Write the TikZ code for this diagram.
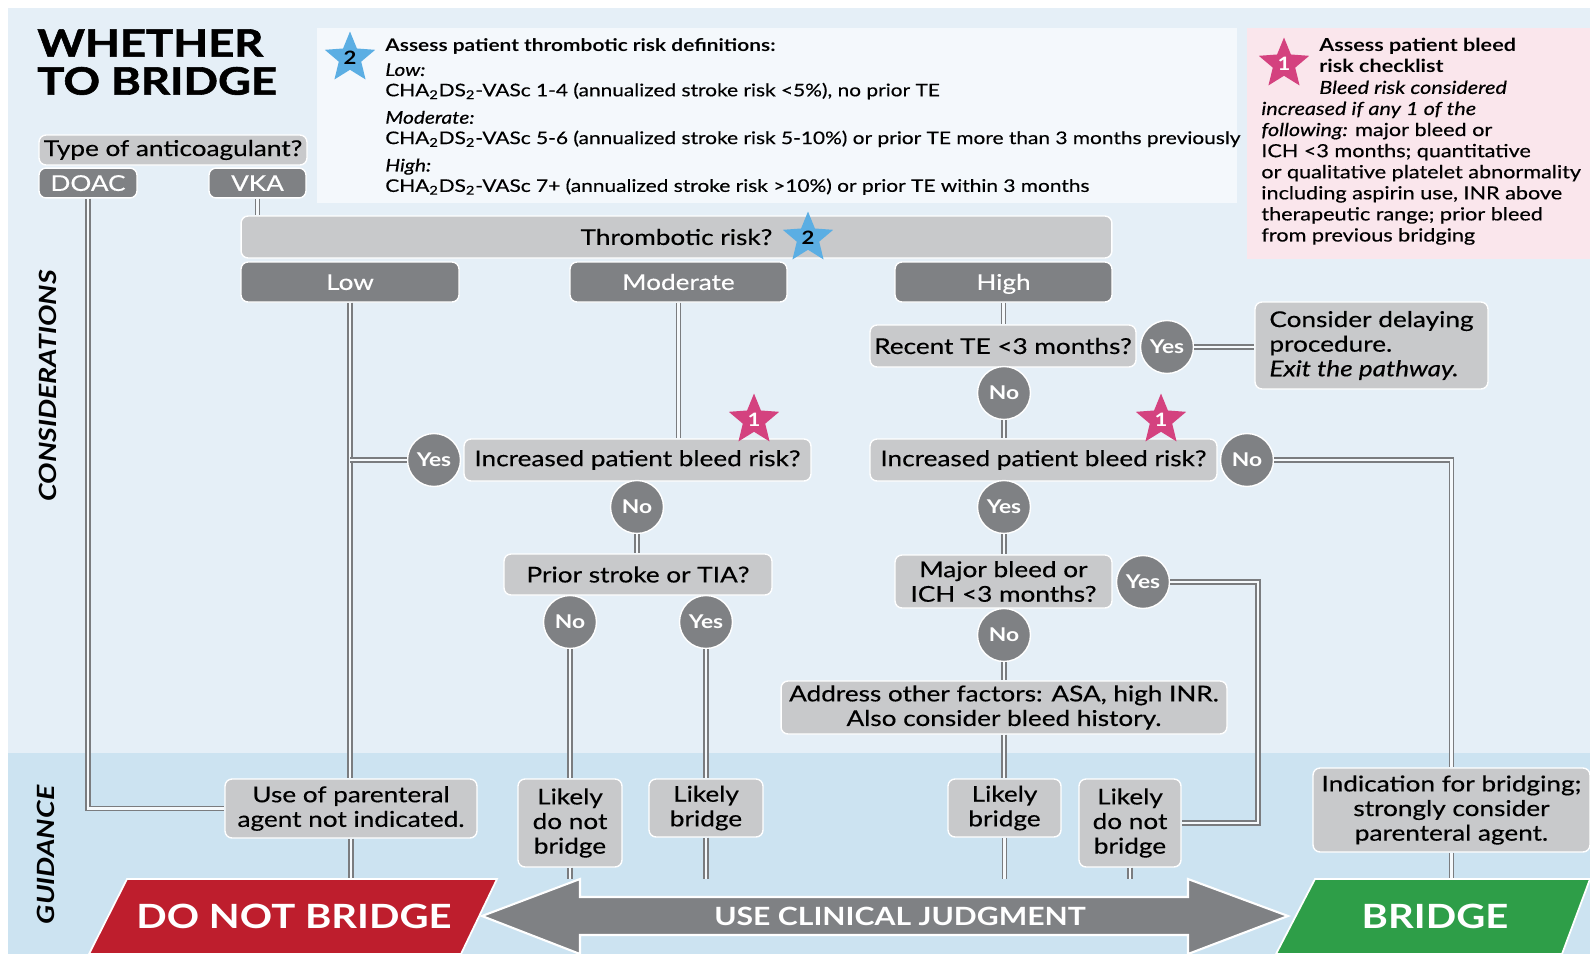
\documentclass[tikz,border=0pt]{standalone}
\usepackage{fontspec}
\setmainfont{Lato}[FakeStretch=1.2, UprightFeatures={FakeBold=0.4}, ItalicFeatures={FakeBold=0.4}]
\newfontfamily\heavyfont{Lato}[FakeStretch=1.2, BoldFeatures={FakeBold=1.5}]
\usepackage{xcolor}
\usepackage{tikz}
\usetikzlibrary{shapes,arrows,positioning,backgrounds,calc}

\definecolor{bgblue}{HTML}{E5EFF7}
\definecolor{guideblue}{HTML}{CCE3F1}
\definecolor{defwhite}{HTML}{F4F8FC}
\definecolor{pinkbox}{HTML}{FAE6EC}
\definecolor{boxgray}{HTML}{C8C9CB}
\definecolor{catgray}{HTML}{7F8184}
\definecolor{linegray}{HTML}{7A7C7F}
\definecolor{starblue}{HTML}{5BAEE3}
\definecolor{starpink}{HTML}{D4427F}
\definecolor{dnbred}{HTML}{BE1E2D}
\definecolor{brgreen}{HTML}{2E9E48}

\newcommand{\boxsize}{\fontsize{12.4}{14}\selectfont}
\newcommand{\notesize}{\fontsize{9.9}{11.6}\selectfont}
\newcommand{\checksize}{\fontsize{10.25}{12}\selectfont}
\newcommand{\titlesize}{\fontsize{21.5}{21.6}\selectfont}
\newcommand{\sidesize}{\fontsize{13.5}{15}\selectfont}

\tikzstyle{qbox} = [rectangle, rounded corners=4pt, fill=boxgray, draw=white, line width=0.8pt, font=\boxsize, inner sep=2pt, align=center]
\tikzstyle{cat} = [qbox, fill=catgray, text=white, text height=11pt, text depth=2pt]
\tikzstyle{answer} = [circle, fill=catgray, draw=white, line width=0.8pt, text=white, font=\fontsize{10.8}{12}\selectfont\bfseries, minimum size=1.06cm, inner sep=0pt, text height=9.8pt, text depth=2pt]
\tikzstyle{starB} = [star, star points=5, star point ratio=2.25, fill=starblue, minimum size=1.06cm, inner sep=0pt, font=\fontsize{10.5}{12}\selectfont\bfseries]
\tikzstyle{starP} = [starB, fill=starpink, text=white]
\tikzstyle{link} = [draw=linegray, line width=0.9pt, double=bgblue!40!white, double distance=1.3pt]
\tikzstyle{banner} = [text=white, font=\fontsize{19}{21}\selectfont\bfseries]

\begin{document}
\begin{tikzpicture}[x=0.02cm, y=-0.02cm]
    \useasboundingbox (0,0) rectangle (1590,954);
    % Background
    \fill[white] (0,0) rectangle (1590,954);
    \fill[bgblue] (8,8) rectangle (1590,954);
    \fill[guideblue] (8,753) rectangle (1590,954);
    \coordinate (base) at (0,879);

    % Title
    \node[anchor=north west, align=left, inner sep=0pt, font=\titlesize\heavyfont\bfseries] (title) at (37,29) {WHETHER\\TO BRIDGE};

    % Thrombotic risk definitions
    \node[rectangle, fill=defwhite, minimum width=18.4cm, minimum height=3.5cm] (defbox) at (777,115.5) {};
    \node[starB] (star2a) at (350,58) {2};
    \node[anchor=north west, align=left, inner sep=0pt, font=\notesize] (deftxt) at (385,38) {\textbf{Assess patient thrombotic risk definitions:}\\[2.4pt]
        \textit{Low:}\\
        CHA\textsubscript{2}DS\textsubscript{2}-VASc 1-4 (annualized stroke risk <5\%), no prior TE\\[4pt]
        \textit{Moderate:}\\
        CHA\textsubscript{2}DS\textsubscript{2}-VASc 5-6 (annualized stroke risk 5-10\%) or prior TE more than 3 months previously\\[4pt]
        \textit{High:}\\
        CHA\textsubscript{2}DS\textsubscript{2}-VASc 7+ (annualized stroke risk >10\%) or prior TE within 3 months};

    % Bleed risk checklist
    \node[rectangle, fill=pinkbox, minimum width=6.86cm, minimum height=4.62cm] (bleedbox) at (1418.5,143.5) {};
    \node[starP] (star1a) at (1284,64) {1};
    \node[anchor=north west, align=left, inner sep=0pt, font=\checksize] (bleedtxt) at (1261,38) {\hspace*{33pt}\textbf{Assess patient bleed}\\
        \hspace*{33pt}\textbf{risk checklist}\\
        \hspace*{33pt}\textit{Bleed risk considered}\\
        \textit{increased if any 1 of the}\\
        \textit{following:} major bleed or\\
        ICH <3 months; quantitative\\
        or qualitative platelet abnormality\\
        including aspirin use, INR above\\
        therapeutic range; prior bleed\\
        from previous bridging};

    % Side labels
    \node[rotate=90, font=\sidesize\bfseries\itshape] (consid) at (48,386) {CONSIDERATIONS};
    \node[rotate=90, font=\sidesize\bfseries\itshape] (guide) at (46,855) {GUIDANCE};

    % Anticoagulant
    \node[qbox, minimum width=5.36cm, minimum height=0.6cm] (type) at (173,150) {Type of anticoagulant?};
    \node[cat, minimum width=1.96cm, minimum height=0.56cm] (doac) at (88,183) {DOAC};
    \node[cat, minimum width=1.94cm, minimum height=0.56cm] (vka) at (257.5,183) {VKA};

    % Thrombotic risk
    \node[qbox, minimum width=17.42cm, minimum height=0.84cm] (risk) at (676.5,237) {Thrombotic risk?};
    \node[starB] (star2b) at (808,238) {2};
    \node[cat, minimum width=4.36cm, minimum height=0.8cm] (low) at (350,282) {Low};
    \node[cat, minimum width=4.34cm, minimum height=0.8cm] (moderate) at (678.5,282) {Moderate};
    \node[cat, minimum width=4.34cm, minimum height=0.8cm] (high) at (1003.5,282) {High};

    % Moderate branch
    \node[qbox, minimum width=6.94cm, minimum height=0.84cm] (bleedM) at (637.5,460) {Increased patient bleed risk?};
    \node[starP] (star1b) at (754,420) {1};
    \node[answer] (yesA) at (434,460) {Yes};
    \node[answer] (noA) at (637,507) {No};
    \node[qbox, minimum width=5.36cm, minimum height=0.82cm] (prior) at (638,574.5) {Prior stroke or TIA?};
    \node[answer] (noB) at (570,622) {No};
    \node[answer] (yesB) at (706,622) {Yes};

    % High branch
    \node[qbox, minimum width=5.32cm, minimum height=0.84cm] (recent) at (1003,346) {Recent TE <3 months?};
    \node[answer] (yesC) at (1167,347) {Yes};
    \node[qbox, align=left, minimum width=4.66cm, minimum height=1.74cm] (delay) at (1371.5,345.5) {Consider delaying\\procedure.\\\textit{Exit the pathway.}};
    \node[answer] (noC) at (1004,393) {No};
    \node[qbox, minimum width=6.94cm, minimum height=0.84cm] (bleedR) at (1043.5,460) {Increased patient bleed risk?};
    \node[starP] (star1c) at (1161,420) {1};
    \node[answer] (noD) at (1247,460) {No};
    \node[answer] (yesD) at (1004,507) {Yes};
    \node[qbox, minimum width=4.34cm, minimum height=1.06cm] (major) at (1003.5,581.5) {Major bleed or\\ICH <3 months?};
    \node[answer] (yesE) at (1143,582) {Yes};
    \node[answer] (noE) at (1004,635) {No};
    \node[qbox, minimum width=8.92cm, minimum height=1.06cm] (factors) at (1004,707.5) {Address other factors: ASA, high INR.\\Also consider bleed history.};

    % Guidance
    \node[qbox, minimum width=5.04cm, minimum height=1.18cm] (parenteral) at (351,808.5) {Use of parenteral\\agent not indicated.};
    \node[qbox, minimum width=2.08cm, minimum height=1.76cm] (nobridgeA) at (570,823) {Likely\\do not\\bridge};
    \node[qbox, minimum width=2.28cm, minimum height=1.16cm] (bridgeA) at (706,808) {Likely\\bridge};
    \node[qbox, minimum width=2.26cm, minimum height=1.16cm] (bridgeB) at (1004.5,808) {Likely\\bridge};
    \node[qbox, minimum width=2.04cm, minimum height=1.76cm] (nobridgeB) at (1130,823) {Likely\\do not\\bridge};
    \node[qbox, minimum width=5.54cm, minimum height=1.68cm] (indication) at (1451.5,810) {Indication for bridging;\\strongly consider\\parenteral agent.};

    % Connectors
    \draw[link] (doac.south) |- (parenteral.west);
    \draw[link] (vka.south) -- (vka.south |- risk.north);
    \draw[link] (low.south) -- (low.south |- parenteral.north);
    \draw[link] (parenteral.south) -- (parenteral.south |- base);
    \draw[link] (yesA.west) -- (yesA.west -| low.south);
    \draw[link] (moderate.south) -- (moderate.south |- bleedM.north);
    \draw[link] (noA.south) -- (noA.south |- prior.north);
    \draw[link] (noB.south) -- (nobridgeA.north);
    \draw[link] (nobridgeA.south) -- (nobridgeA.south |- base);
    \draw[link] (yesB.south) -- (bridgeA.north);
    \draw[link] (bridgeA.south) -- (bridgeA.south |- base);
    \draw[link] (high.south) -- (high.south |- recent.north);
    \draw[link] (yesC.east) -- (yesC.east -| delay.west);
    \draw[link] (noC.south) -- (noC.south |- bleedR.north);
    \draw[link] (noD.east) -| (indication.north);
    \draw[link] (indication.south) -- (indication.south |- base);
    \draw[link] (yesD.south) -- (yesD.south |- major.north);
    \draw[link] (yesE.east) -- ++(88,0) |- (nobridgeB.east);
    \draw[link] (noE.south) -- (noE.south |- factors.north);
    \draw[link] (factors.south) -- (factors.south |- bridgeB.north);
    \draw[link] (bridgeB.south) -- (bridgeB.south |- base);
    \draw[link] (nobridgeB.south) -- (nobridgeB.south |- base);

    % Bottom banners
    \fill[dnbred, draw=white, line width=1pt] (127,879) -- (497,879) -- (461,954) -- (89,954) -- cycle;
    \fill[catgray, draw=white, line width=1.2pt] (482,916) -- (580,879) -- (580,897) -- (1188,897) -- (1188,879) -- (1288,916) -- (1188,954) -- (1188,935) -- (580,935) -- (580,954) -- cycle;
    \fill[brgreen, draw=white, line width=1pt] (1315,879) -- (1590,879) -- (1562,954) -- (1276,954) -- cycle;
    \node[banner] (dnb) at (294,916) {DO NOT BRIDGE};
    \node[banner, font=\fontsize{14.3}{16}\selectfont\bfseries] (judge) at (900,916) {USE CLINICAL JUDGMENT};
    \node[banner] (br) at (1435,916) {BRIDGE};
\end{tikzpicture}
\end{document}
